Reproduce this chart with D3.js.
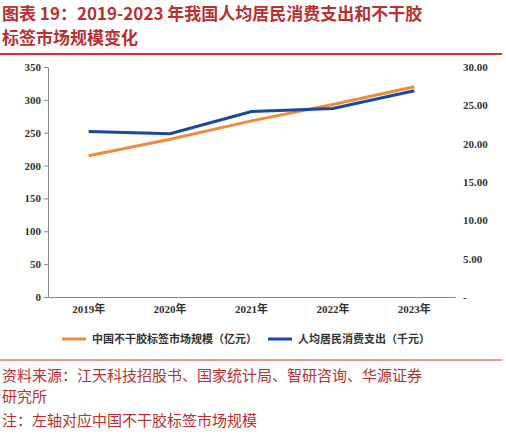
<!DOCTYPE html>
<html><head><meta charset="utf-8">
<script src="https://cdn.jsdelivr.net/npm/d3@7"></script>
<style>body{margin:0;background:#fff}</style></head>
<body><svg id="c" width="506" height="436"></svg>
<script>
const years = ["2019年", "2020年", "2021年", "2022年", "2023年"];
const marketSize = [215, 240, 268, 293, 320];
const spending = [21.6, 21.3, 24.2, 24.6, 26.9];
const leftTicks = [0, 50, 100, 150, 200, 250, 300, 350];
const rightTicks = [0, 5, 10, 15, 20, 25, 30];

const svg = d3.select("#c");
const cjk = "'Noto Sans CJK SC', sans-serif";
const red = "#b8312f";

// 标题
svg.append("text").attr("x", 2).attr("y", 20).attr("font-family", cjk).attr("font-weight", "bold")
    .attr("font-size", 17).attr("fill", red).text("图表 19：2019-2023 年我国人均居民消费支出和不干胶");
svg.append("text").attr("x", 2).attr("y", 44).attr("font-family", cjk).attr("font-weight", "bold")
    .attr("font-size", 17).attr("fill", red).text("标签市场规模变化");
svg.append("line").attr("x1", 0).attr("x2", 502).attr("y1", 54).attr("y2", 54)
    .attr("stroke", "#d9352f").attr("stroke-width", 2);

const x = d3.scaleBand().domain(years).range([48, 455]);
const yL = d3.scaleLinear().domain([0, 350]).range([297, 67]);
const yR = d3.scaleLinear().domain([0, 30]).range([297, 67]);

const gL = svg.append("g").attr("transform", "translate(48,0)")
    .call(d3.axisLeft(yL).tickValues(leftTicks).tickSize(4).tickSizeOuter(0));
gL.selectAll("text").attr("font-family", "'Liberation Serif', serif").attr("font-weight", "bold").attr("font-size", 11).attr("fill", "#333");
gL.selectAll("line,path").attr("stroke", "#888");

const gR = svg.append("g").attr("transform", "translate(455,0)")
    .call(d3.axisRight(yR).tickValues(rightTicks).tickSize(0).tickPadding(8)
        .tickFormat(d => d === 0 ? "-" : d3.format(".2f")(d)));
gR.select("path").remove();
gR.selectAll("text").attr("font-family", "'Liberation Serif', serif").attr("font-weight", "bold").attr("font-size", 11).attr("fill", "#333");

const gX = svg.append("g").attr("transform", "translate(0,297)")
    .call(d3.axisBottom(x).tickSize(0).tickPadding(8));
gX.select("path").attr("stroke", "#888");
gX.selectAll("text").attr("font-family", "'Liberation Serif', " + cjk).attr("font-weight", "bold").attr("font-size", 11).attr("fill", "#333");

const cx = d => x(d) + x.bandwidth() / 2;
svg.append("path").datum(marketSize).attr("fill", "none").attr("stroke", "#f08a3c").attr("stroke-width", 3)
    .attr("d", d3.line().x((d, i) => cx(years[i])).y(d => yL(d)));
svg.append("path").datum(spending).attr("fill", "none").attr("stroke", "#1a47a0").attr("stroke-width", 3)
    .attr("d", d3.line().x((d, i) => cx(years[i])).y(d => yR(d)));

// 图例
const legend = [
    { name: "中国不干胶标签市场规模（亿元）", color: "#f08a3c", x: 62 },
    { name: "人均居民消费支出（千元）", color: "#1a47a0", x: 268 }
];
legend.forEach(l => {
    svg.append("line").attr("x1", l.x).attr("x2", l.x + 24).attr("y1", 339).attr("y2", 339)
        .attr("stroke", l.color).attr("stroke-width", 3);
    svg.append("text").attr("x", l.x + 30).attr("y", 343).attr("font-family", cjk).attr("font-weight", "bold")
        .attr("font-size", 11).attr("fill", "#333").text(l.name);
});

svg.append("line").attr("x1", 0).attr("x2", 502).attr("y1", 360).attr("y2", 360)
    .attr("stroke", "#d9352f").attr("stroke-width", 1);

[["资料来源：江天科技招股书、国家统计局、智研咨询、华源证券", 381],
 ["研究所", 402], ["注：左轴对应中国不干胶标签市场规模", 426]].forEach(([t, y]) => {
    svg.append("text").attr("x", 2).attr("y", y).attr("font-family", cjk)
        .attr("font-size", 15).attr("fill", red).text(t);
});
</script></body></html>
